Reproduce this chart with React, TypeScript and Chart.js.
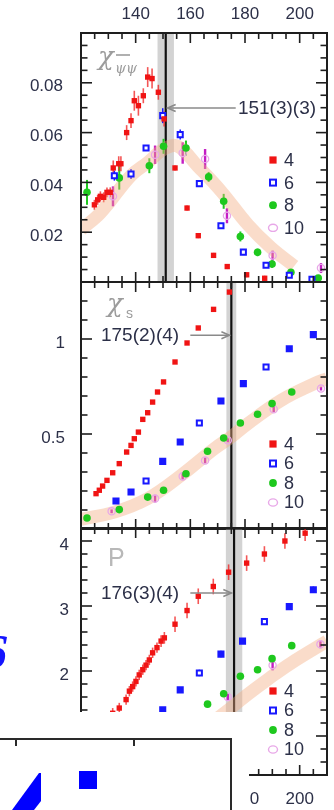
import React, { useEffect, useRef } from "react";
import { Chart, registerables } from "chart.js";
Chart.register(...registerables);

// ---------- axes ----------
const T_MIN = 120;
const T_MAX = 210;
const xTickValues = [140, 160, 180, 200];
const legendLabels = ["4", "6", "8", "10"];
const yTicksChi = [0.02, 0.04, 0.06, 0.08];
const yTicksChis = [0.5, 1];
const yTicksP = [2, 3, 4];

// ---------- panel 1 : chiral susceptibility ----------
const chiT4 = [124.9, 126.1, 127.1, 128.3, 129.5, 130.7, 131.8, 133.8, 134.6, 136.7, 138.3, 139.5, 141.0, 142.8, 144.4, 146.0, 148.3, 150.4, 154.4, 158.8, 162.9, 168.5, 173.5, 180.6, 187.2];
const chiV4 = [0.031, 0.033, 0.0344, 0.034, 0.036, 0.036, 0.0458, 0.0475, 0.0475, 0.060, 0.0648, 0.0728, 0.0708, 0.0748, 0.0823, 0.0817, 0.0762, 0.0655, 0.0458, 0.0297, 0.0186, 0.0107, 0.0062, 0.0029, 0.0015];
const chiE4 = [0.002, 0.002, 0.002, 0.002, 0.002, 0.002, 0.003, 0.003, 0.003, 0.003, 0.003, 0.004, 0.004, 0.003, 0.004, 0.004, 0.003, 0.003, 0.001, 0.001, 0.001, 0.001, 0.001, 0.001, 0.001];
const chiT6 = [132.2, 138.3, 143.8, 149.9, 156.3, 163.3, 171.2, 179.4, 187.7, 196.2, 204.5];
const chiV6 = [0.0427, 0.0434, 0.0538, 0.0668, 0.0592, 0.0395, 0.0226, 0.012, 0.0067, 0.0027, 0.0011];
const chiE6 = [0.002, 0.002, 0.001, 0.003, 0.002, 0.001, 0.001, 0.001, 0.001, 0.001, 0.001];
const chiT8 = [122.2, 134.0, 145.0, 150.2, 158.4, 166.7, 172.2, 178.3, 184.6, 189.9, 196.8, 206.8];
const chiV8 = [0.036, 0.0418, 0.0467, 0.0545, 0.0538, 0.0422, 0.0324, 0.0183, 0.0119, 0.0072, 0.0039, 0.0016];
const chiE8 = [0.005, 0.0047, 0.003, 0.003, 0.003, 0.002, 0.003, 0.002, 0.0015, 0.0015, 0.001, 0.001];
const chiT10 = [131.7, 147.1, 157.2, 165.4, 173.4, 190.1, 207.8];
const chiV10 = [0.0344, 0.0511, 0.0518, 0.0494, 0.0266, 0.0106, 0.0056];
const chiE10 = [0.004, 0.0037, 0.0043, 0.004, 0.003, 0.002, 0.002];
const chiBandT = [120, 127.3, 138.3, 144.4, 150.5, 155.4, 162.7, 171.2, 181, 189.5, 198];
const chiBandV = [0.021, 0.028, 0.0428, 0.048, 0.0535, 0.0545, 0.0465, 0.0365, 0.0231, 0.0138, 0.0064];

// ---------- panel 2 : strange quark number susceptibility ----------
const chisT4 = [125.5, 126.7, 127.9, 129.5, 131.6, 134.0, 136.7, 138.3, 139.5, 141.0, 142.6, 144.4, 146.2, 148.0, 150.2, 154.4, 158.8, 162.9, 168.5, 174.3];
const chisV4 = [0.186, 0.204, 0.226, 0.256, 0.296, 0.344, 0.405, 0.44, 0.475, 0.51, 0.577, 0.612, 0.668, 0.721, 0.774, 0.879, 0.979, 1.058, 1.156, 1.247];
const chisT6 = [132.8, 138.3, 143.8, 149.9, 156.3, 163.3, 171.2, 179.4, 187.7, 196.2, 205.0];
const chisV6 = [0.147, 0.195, 0.253, 0.356, 0.458, 0.558, 0.674, 0.765, 0.853, 0.949, 1.023];
const chisOpen6 = [false, false, true, false, false, true, false, false, true, false, false];
const chisT8 = [122.2, 134.0, 144.4, 150.2, 158.4, 166.3, 172.2, 178.3, 184.6, 189.9, 197.1];
const chisV8 = [0.058, 0.102, 0.168, 0.204, 0.291, 0.409, 0.479, 0.558, 0.604, 0.66, 0.721];
const chisT10 = [131.2, 147.1, 157.2, 165.4, 173.7, 190.5, 207.8];
const chisV10 = [0.093, 0.16, 0.277, 0.361, 0.467, 0.63, 0.739];
const chisE10 = [0.01, 0.02, 0.02, 0.015, 0.01, 0.015, 0.01];
const chisBandT = [120, 132.2, 144.4, 156.6, 168.8, 174.9, 181, 193.2, 205.4, 210];
const chisBandV = [0.051, 0.089, 0.16, 0.282, 0.423, 0.484, 0.554, 0.677, 0.765, 0.791];

// ---------- panel 3 : Polyakov loop ----------
const pT4 = [131.6, 134.0, 136.5, 137.7, 138.9, 140.1, 141.3, 142.6, 143.8, 145.0, 146.2, 147.8, 149.3, 150.5, 154.4, 158.8, 162.9, 168.4, 174.0, 180.6, 187.1, 194.6, 202.0];
const pV4 = [1.35, 1.43, 1.56, 1.69, 1.76, 1.84, 1.94, 2.02, 2.09, 2.17, 2.28, 2.36, 2.46, 2.51, 2.72, 2.93, 3.15, 3.3, 3.52, 3.66, 3.8, 4.0, 4.12];
const pE4 = [0.08, 0.08, 0.08, 0.08, 0.08, 0.08, 0.08, 0.08, 0.08, 0.08, 0.08, 0.08, 0.09, 0.09, 0.12, 0.12, 0.12, 0.12, 0.12, 0.12, 0.12, 0.12, 0.12];
const pT6 = [149.9, 156.3, 163.3, 171.2, 179.1, 187.1, 196.2, 205.0];
const pV6 = [1.405, 1.71, 1.97, 2.26, 2.46, 2.76, 2.99, 3.25];
const pE6 = [0.04, 0.04, 0.05, 0.05, 0.04, 0.05, 0.05, 0.05];
const pOpen6 = [false, false, true, false, false, true, false, false];
const pT8 = [166.3, 172.2, 178.3, 184.6, 189.9, 197.1];
const pV8 = [1.49, 1.65, 1.92, 2.02, 2.19, 2.39];
const pE8 = [0.03, 0.05, 0.04, 0.04, 0.04, 0.03];
const pT10 = [173.7, 190.1, 207.6];
const pV10 = [1.6, 2.09, 2.41];
const pE10 = [0.06, 0.08, 0.06];
const pBandT = [140, 150, 160, 166, 172.4, 181, 188.3, 196.8, 210];
const pBandV = [0.55, 0.75, 1.0, 1.15, 1.35, 1.64, 1.87, 2.12, 2.46];

// ---------- style ----------
const W = 334;
const H = 810;
const FONT = "'Liberation Sans', Arial, sans-serif";
const TEXT = "#2c3048";
const RED = "#f01414";
const BLUE = "#1818ff";
const GREEN = "#1ec81e";
const PINK = "#e8a8e8";
const MAGENTA = "#c41ec4";

type Series = { t: number[]; v: number[]; e?: number[]; open?: boolean[] };
type Panel = {
  top: number; bottom: number; xAxis: "top" | "bottom" | "none"; xPad: number;
  yMin: number; yMax: number; yTicks: number[]; yMajor: number; yMinor: number; yPad: number;
  fmt: (v: number) => string;
  s4: Series; s6: Series; s8: Series; s10: Series; band: Series;
  tc: number; tcErr: number;
  note: { text: string; textT: number; y: number; from: number; to: number };
  legendTop: number; legendStep: number;
  label: "chi" | "chis" | "P";
};

const panels: Panel[] = [
  {
    top: 33, bottom: 282, xAxis: "top", xPad: 8, yMin: 0, yMax: 0.1, yTicks: yTicksChi, yMajor: 0.02, yMinor: 0.005, yPad: 18,
    fmt: (v) => v.toFixed(2),
    s4: { t: chiT4, v: chiV4, e: chiE4 }, s6: { t: chiT6, v: chiV6, e: chiE6, open: chiT6.map(() => true) },
    s8: { t: chiT8, v: chiV8, e: chiE8 }, s10: { t: chiT10, v: chiV10, e: chiE10 }, band: { t: chiBandT, v: chiBandV },
    tc: 151, tcErr: 3,
    note: { text: "151(3)(3)", textT: 177.4, y: 0.0699, from: 176.6, to: 151.7 },
    legendTop: 127, legendStep: 22.6, label: "chi",
  },
  {
    top: 282, bottom: 529, xAxis: "none", xPad: 0, yMin: 0, yMax: 1.3, yTicks: yTicksChis, yMajor: 0.5, yMinor: 0.1, yPad: 16,
    fmt: (v) => String(v),
    s4: { t: chisT4, v: chisV4 }, s6: { t: chisT6, v: chisV6, open: chisOpen6 },
    s8: { t: chisT8, v: chisV8 }, s10: { t: chisT10, v: chisV10, e: chisE10 }, band: { t: chisBandT, v: chisBandV },
    tc: 175, tcErr: 1.8,
    note: { text: "175(2)(4)", textT: 127.3, y: 1.02, from: 160.0, to: 174.3 },
    legendTop: 162, legendStep: 19.5, label: "chis",
  },
  {
    top: 528, bottom: 775, xAxis: "bottom", xPad: 14, yMin: 0.4, yMax: 4.2, yTicks: yTicksP, yMajor: 1, yMinor: 0.2, yPad: 12,
    fmt: (v) => String(v),
    s4: { t: pT4, v: pV4, e: pE4 }, s6: { t: pT6, v: pV6, e: pE6, open: pOpen6 },
    s8: { t: pT8, v: pV8, e: pE8 }, s10: { t: pT10, v: pV10, e: pE10 }, band: { t: pBandT, v: pBandV },
    tc: 176, tcErr: 3,
    note: { text: "176(3)(4)", textT: 127.3, y: 3.2, from: 160.0, to: 175.0 },
    legendTop: 163, legendStep: 19.5, label: "P",
  },
];

const pts = (t: number[], v: number[]) => t.map((x, i) => ({ x, y: v[i] }));

function drawMarker(ctx: CanvasRenderingContext2D, k: number, cx: number, cy: number) {
  ctx.save();
  if (k === 0) { ctx.fillStyle = RED; ctx.fillRect(cx - 3.6, cy - 3.6, 7.2, 7.2); }
  if (k === 1) { ctx.strokeStyle = BLUE; ctx.lineWidth = 2; ctx.strokeRect(cx - 3, cy - 3, 6, 6); }
  if (k === 2) { ctx.fillStyle = GREEN; ctx.beginPath(); ctx.arc(cx, cy, 3.9, 0, Math.PI * 2); ctx.fill(); }
  if (k === 3) { ctx.strokeStyle = PINK; ctx.lineWidth = 1.4; ctx.beginPath(); ctx.ellipse(cx, cy, 4.5, 3.6, 0, 0, Math.PI * 2); ctx.stroke(); }
  ctx.restore();
}

function makePlugin(p: Panel) {
  return {
    id: "panelDecor",
    beforeDatasetsDraw(chart: any) {
      const { ctx, chartArea: a, scales } = chart;
      const x = scales.x, y = scales.y;
      ctx.save();
      ctx.beginPath(); ctx.rect(a.left, a.top, a.width, a.height); ctx.clip();
      const x0 = x.getPixelForValue(p.tc - p.tcErr), x1 = x.getPixelForValue(p.tc + p.tcErr);
      ctx.fillStyle = "rgba(150,150,150,0.42)";
      ctx.fillRect(x0, a.top, x1 - x0, a.height);
      const xc = x.getPixelForValue(p.tc);
      ctx.strokeStyle = "#111"; ctx.lineWidth = 2.2;
      ctx.beginPath(); ctx.moveTo(xc, a.top); ctx.lineTo(xc, a.bottom); ctx.stroke();
      chart.data.datasets.forEach((ds: any, i: number) => {
        if (!ds.errors) return;
        const meta = chart.getDatasetMeta(i);
        ctx.strokeStyle = ds.errorColor; ctx.lineWidth = ds.errorWidth;
        meta.data.forEach((el: any, j: number) => {
          const v = ds.data[j].y, e = ds.errors[j];
          ctx.beginPath();
          ctx.moveTo(el.x, y.getPixelForValue(v - e));
          ctx.lineTo(el.x, y.getPixelForValue(v + e));
          ctx.stroke();
        });
      });
      ctx.restore();
    },
    afterDraw(chart: any) {
      const { ctx, chartArea: a, scales } = chart;
      const x = scales.x, y = scales.y;
      ctx.save();
      // ticks
      ctx.strokeStyle = "#1e1e1e"; ctx.lineWidth = 1.6;
      const seg = (x1: number, y1: number, x2: number, y2: number) => { ctx.beginPath(); ctx.moveTo(x1, y1); ctx.lineTo(x2, y2); ctx.stroke(); };
      for (let t = T_MIN; t <= T_MAX + 1e-6; t += 5) {
        const px = x.getPixelForValue(t);
        const len = t % 20 === 0 ? 10 : 6;
        seg(px, a.top, px, a.top + len);
        seg(px, a.bottom, px, a.bottom - len);
      }
      const n = Math.round((p.yMax - p.yMin) / p.yMinor);
      for (let k = 0; k <= n; k++) {
        const v = p.yMin + k * p.yMinor;
        const r = v / p.yMajor;
        const len = Math.abs(r - Math.round(r)) < 1e-6 ? 11 : 6.5;
        const py = y.getPixelForValue(v);
        seg(a.left, py, a.left + len, py);
        seg(a.right, py, a.right - len, py);
      }
      ctx.lineWidth = 2;
      ctx.strokeRect(a.left, a.top, a.width, a.height);

      // panel label
      ctx.fillStyle = "#9c9c9c";
      ctx.textBaseline = "alphabetic"; ctx.textAlign = "left";
      if (p.label === "chi") {
        ctx.font = "italic 26px 'DejaVu Serif', serif";
        ctx.fillText("χ", a.left + 17, a.top + 32);
        ctx.font = "italic 14px 'DejaVu Serif', serif";
        ctx.fillText("ψψ", a.left + 34, a.top + 40);
        ctx.strokeStyle = "#9c9c9c"; ctx.lineWidth = 1.6;
        seg(a.left + 35, a.top + 22, a.left + 49, a.top + 22);
      } else if (p.label === "chis") {
        ctx.font = "italic 26px 'DejaVu Serif', serif";
        ctx.fillText("χ", a.left + 26, a.top + 30);
        ctx.font = "14px " + FONT;
        ctx.fillText("s", a.left + 45, a.top + 36);
      } else {
        ctx.fillStyle = "#b8b8b8";
        ctx.font = "25px " + FONT;
        ctx.fillText("P", a.left + 27, a.top + 38);
      }

      // note + arrow
      const ny = y.getPixelForValue(p.note.y);
      ctx.fillStyle = TEXT; ctx.font = "19px " + FONT; ctx.textBaseline = "middle";
      ctx.fillText(p.note.text, x.getPixelForValue(p.note.textT), ny + 1);
      const xf = x.getPixelForValue(p.note.from), xt = x.getPixelForValue(p.note.to);
      ctx.strokeStyle = "#8a8a8a"; ctx.lineWidth = 1.6;
      seg(xf, ny, xt, ny);
      const dir = Math.sign(xt - xf);
      ctx.beginPath(); ctx.moveTo(xt - dir * 8, ny - 3.5); ctx.lineTo(xt, ny); ctx.lineTo(xt - dir * 8, ny + 3.5); ctx.stroke();

      // legend
      ctx.font = "18px " + FONT; ctx.fillStyle = TEXT; ctx.textBaseline = "middle";
      legendLabels.forEach((lab, k) => {
        const ly = a.top + p.legendTop + k * p.legendStep;
        drawMarker(ctx, k, a.left + 192, ly);
        ctx.fillStyle = TEXT;
        ctx.fillText(lab, a.left + 203, ly + 1);
      });
      ctx.restore();
    },
  };
}

function buildConfig(p: Panel): any {
  const xH = p.xAxis === "top" ? p.top : p.xAxis === "bottom" ? H - p.bottom : 0;
  return {
    type: "scatter",
    data: {
      datasets: [
        { label: "band", data: pts(p.band.t, p.band.v), showLine: true, pointRadius: 0, borderColor: "rgba(242,172,128,0.42)", borderWidth: 13, tension: 0.4, order: 10, fill: false },
        { label: "10", data: pts(p.s10.t, p.s10.v), errors: p.s10.e, errorColor: MAGENTA, errorWidth: 2.4, pointStyle: "circle", pointRadius: 3.6, borderWidth: 1.3, borderColor: PINK, backgroundColor: "rgba(255,255,255,0)", order: 4 },
        { label: "8", data: pts(p.s8.t, p.s8.v), errors: p.s8.e, errorColor: GREEN, errorWidth: 2, pointStyle: "circle", pointRadius: 3.8, borderWidth: 0, backgroundColor: GREEN, order: 3 },
        { label: "6", data: pts(p.s6.t, p.s6.v), errors: p.s6.e, errorColor: BLUE, errorWidth: 1.5, pointStyle: "rect", pointRadius: 3.6, borderWidth: 2, borderColor: BLUE, backgroundColor: p.s6.t.map((_, i) => (p.s6.open && p.s6.open[i] ? "#ffffff" : BLUE)), order: 2 },
        { label: "4", data: pts(p.s4.t, p.s4.v), errors: p.s4.e, errorColor: "rgba(240,30,30,0.75)", errorWidth: 1.6, pointStyle: "rect", pointRadius: 3.8, borderWidth: 0, backgroundColor: RED, order: 1 },
      ],
    },
    options: {
      animation: false, responsive: false, devicePixelRatio: 1, events: [],
      layout: {
        padding: {
          left: 0, right: 7,
          top: p.xAxis === "top" ? 0 : p.top,
          bottom: p.xAxis === "bottom" ? 0 : H - p.bottom,
        },
      },
      plugins: { legend: { display: false }, tooltip: { enabled: false } },
      scales: {
        x: {
          type: "linear", min: T_MIN, max: T_MAX, display: p.xAxis !== "none",
          position: p.xAxis === "top" ? "top" : "bottom",
          grid: { display: false, drawTicks: false }, border: { display: false },
          afterBuildTicks: (s: any) => { s.ticks = xTickValues.map((value) => ({ value })); },
          afterFit: (s: any) => { s.height = xH; },
          ticks: { font: { family: FONT, size: 17 }, color: TEXT, padding: p.xPad, maxRotation: 0, autoSkip: false, callback: (v: number) => String(v) },
        },
        y: {
          type: "linear", min: p.yMin, max: p.yMax,
          grid: { display: false, drawTicks: false }, border: { display: false },
          afterBuildTicks: (s: any) => { s.ticks = p.yTicks.map((value) => ({ value })); },
          afterFit: (s: any) => { s.width = 81; },
          ticks: { font: { family: FONT, size: 17 }, color: TEXT, padding: p.yPad, labelOffset: 4, autoSkip: false, callback: (v: number) => p.fmt(v) },
        },
      },
    },
    plugins: [makePlugin(p)],
  };
}

export default function App() {
  const r1 = useRef<HTMLCanvasElement>(null);
  const r2 = useRef<HTMLCanvasElement>(null);
  const r3 = useRef<HTMLCanvasElement>(null);
  useEffect(() => {
    const refs = [r1, r2, r3];
    const charts = refs.map((r, i) => new Chart(r.current as HTMLCanvasElement, buildConfig(panels[i])));
    return () => charts.forEach((c) => c.destroy());
  }, []);
  const cv: React.CSSProperties = { position: "absolute", left: 0, top: 0 };
  return (
    <div style={{ position: "absolute", left: 0, top: 0, width: W, height: H, overflow: "hidden", background: "#fff" }}>
      <canvas ref={r1} width={W} height={H} style={cv} />
      <canvas ref={r2} width={W} height={H} style={cv} />
      <canvas ref={r3} width={W} height={H} style={cv} />
      <svg width={W} height={H} style={{ position: "absolute", left: 0, top: 0 }}>
        <rect x={0} y={712} width={249} height={98} fill="#fff" />
        <path d="M0 739 H231 V810" fill="none" stroke="#2a2a2a" strokeWidth={2} />
        <path d="M16 739 V746 M134 739 V746" stroke="#2a2a2a" strokeWidth={2} />
        <rect x={79} y={771} width={18} height={18} fill="#0000ff" />
        <polygon points="39,773 41,773 41,801 34,810 12,810" fill="#0000ff" />
      </svg>
      <div style={{ position: "absolute", left: -17, top: 628, font: "bold italic 48px 'Liberation Serif', serif", lineHeight: "48px", color: "#1414ff" }}>6</div>
    </div>
  );
}
